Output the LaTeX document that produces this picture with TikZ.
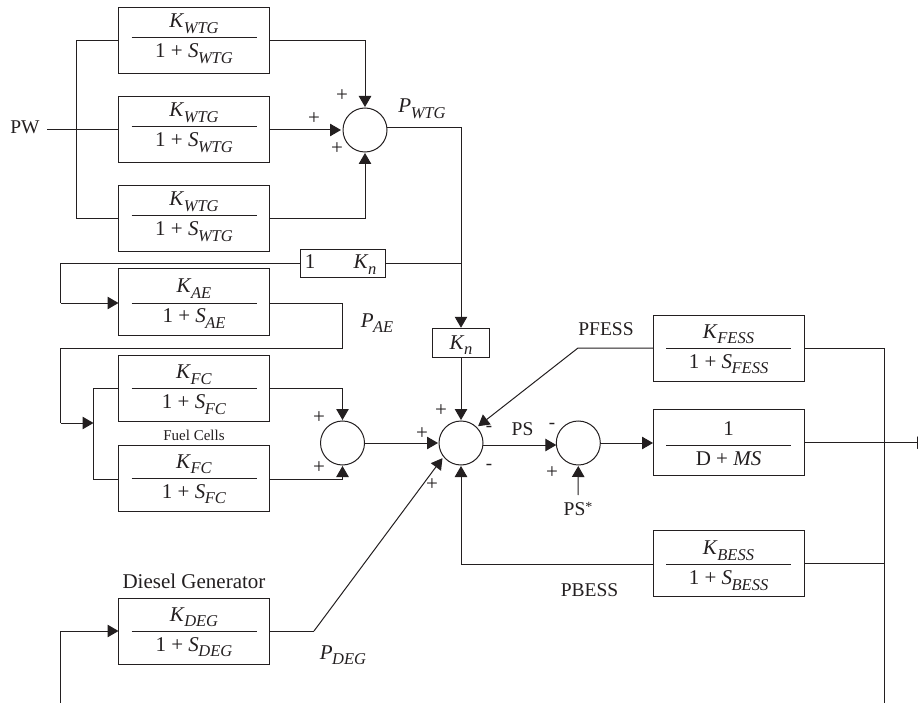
\documentclass[tikz,border=0pt]{standalone}
\usepackage{fontspec}
\setmainfont{Liberation Serif}
\usetikzlibrary{arrows.meta}
\definecolor{ink}{HTML}{231F20}
\newcommand{\Sb}[2]{\textit{#1}\kern-0.5pt\raisebox{-0.27em}{\fontsize{16.5}{16.5}\selectfont\textit{#2}}}
\tikzset{
  every node/.style={text=ink,font=\fontsize{21}{23}\selectfont,inner sep=0pt,outer sep=0pt},
  line/.style={draw=ink,line width=1pt},
  arrowline/.style={line,-{Triangle[length=11pt,width=12.5pt]},shorten >=1pt},
  blockbox/.style={line,minimum width=151pt,minimum height=66pt},
  smallbox/.style={line,minimum height=28.5pt},
  sumcircle/.style={line,circle,minimum size=44pt},
  sign/.style={font=\fontsize{21}{21}\selectfont},
  minus/.style={font=\fontsize{19}{19}\selectfont},
  plainlabel/.style={anchor=base,font=\fontsize{19.5}{21}\selectfont},
}
% name, x, box centre y, fraction bar y, numerator, denominator
\newcommand{\block}[6]{%
  \node[blockbox] (#1) at (#2,#3) {};
  \draw[line] (#2-62.5,#4) -- (#2+62.5,#4);
  \node[anchor=base] at (#2,#4-10) {#5};
  \node[anchor=base] at (#2,#4+20) {#6};
}
\begin{document}
\begin{tikzpicture}[x=1pt,y=-1pt]
\useasboundingbox (0,0) rectangle (918,703);
% blocks
\block{wa}{194}{41}{38}{\Sb{K}{WTG}}{1 + \Sb{S}{WTG}}
\block{wb}{194}{130}{127}{\Sb{K}{WTG}}{1 + \Sb{S}{WTG}}
\block{wc}{194}{219}{216}{\Sb{K}{WTG}}{1 + \Sb{S}{WTG}}
\block{ae}{194}{302}{303}{\Sb{K}{AE}}{1 + \Sb{S}{AE}}
\block{fa}{194}{388.5}{388.5}{\Sb{K}{FC}}{1 + \Sb{S}{FC}}
\block{fb}{194}{478}{478}{\Sb{K}{FC}}{1 + \Sb{S}{FC}}
\block{de}{194}{631}{631}{\Sb{K}{DEG}}{1 + \Sb{S}{DEG}}
\block{fe}{728.5}{348}{348}{\Sb{K}{FESS}}{1 + \Sb{S}{FESS}}
\block{dm}{728.5}{442.7}{445}{1}{D + \textit{MS}}
\block{be}{728.5}{563}{564.5}{\Sb{K}{BESS}}{1 + \Sb{S}{BESS}}
% small boxes
\node[smallbox,minimum width=85pt] (ka) at (342.5,263.5) {};
\node[anchor=base] at (310,269) {1};
\node[anchor=base] at (365,269) {\Sb{K}{n}};
\node[smallbox,minimum width=57pt] (kb) at (461,343) {};
\node[anchor=base] at (461,349) {\Sb{K}{n}};
% summing junctions
\node[sumcircle] (s1) at (365,130) {};
\node[sumcircle] (s2) at (342.5,443) {};
\node[sumcircle] (s3) at (461,443) {};
\node[sumcircle] (s4) at (578.3,443) {};
% text labels
\node[plainlabel] (pw) at (25,134) {PW};
\node[anchor=base] (pwtg) at (422,113) {\Sb{P}{WTG}};
\node[anchor=base] (pae) at (377,327) {\Sb{P}{AE}};
\node[anchor=base] (pdeg) at (343,659) {\Sb{P}{DEG}};
\node[anchor=base,font=\fontsize{15}{15}\selectfont] at (194,440) {Fuel Cells};
\node[anchor=base] at (194,588) {Diesel Generator};
\node[plainlabel] at (606,335) {PFESS};
\node[plainlabel] at (589.5,596) {PBESS};
\node[plainlabel] at (522.5,435) {PS};
\node[plainlabel] (pss) at (578,515) {PS\raisebox{4pt}{\fontsize{14}{14}\selectfont *}};
% signs
\node[sign] at (342,96) {+};
\node[sign] at (314,119) {+};
\node[sign] at (337,149) {+};
\node[sign] at (319,418) {+};
\node[sign] at (319,468) {+};
\node[sign] at (441,410.5) {+};
\node[sign] at (422,434) {+};
\node[sign] at (432,485) {+};
\node[sign] at (552,473) {+};
\node[minus] at (489,429) {-};
\node[minus] at (489,467) {-};
\node[minus] at (552,426) {-};
% free coordinates
\coordinate (trunkT) at (76.5,41);
\coordinate (trunkB) at (76.5,219);
\coordinate (pwStart) at (47,130);
\coordinate (out1) at (461,127.5);
\coordinate (tap) at (461,263.5);
\coordinate (loopA) at (60.5,263.5);
\coordinate (loopB) at (60.5,303);
\coordinate (aeA) at (342.5,303);
\coordinate (aeB) at (342.5,348);
\coordinate (aeC) at (60.5,348);
\coordinate (aeD) at (60.5,423);
\coordinate (fcIn) at (93.5,423);
\coordinate (fcT) at (93.5,388.5);
\coordinate (fcB) at (93.5,479);
\coordinate (deA) at (60.5,703);
\coordinate (deB) at (60.5,631);
\coordinate (deBend) at (314,631);
\coordinate (feBend) at (578,348);
\coordinate (busT) at (884,348);
\coordinate (busB) at (884,703);
\coordinate (busM) at (884,563);
\coordinate (beBend) at (461,564.5);
\coordinate (endR) at (928,442.7);
\coordinate (pssTop) at (578,495);
% wind
\draw[line] (pwStart) -- (wb.west);
\draw[line] (wa.west) -- (trunkT) -- (trunkB) -- (wc.west);
\draw[arrowline] (wa.east) -| (s1.north);
\draw[arrowline,shorten >=2pt] (wb.east) -- (s1.west);
\draw[arrowline] (wc.east) -| (s1.south);
\draw[line] (s1.east |- out1) -- (out1) -- (tap);
\draw[arrowline] (tap) -- (kb.north);
\draw[line] (tap) -- (ka.east);
\draw[line] (ka.west) -- (loopA) -- (loopB);
\draw[arrowline,shorten >=0pt] (loopB) -- (loopB -| ae.west);
% AE to fuel cells
\draw[line] (aeA -| ae.east) -- (aeA) -- (aeB) -- (aeC) -- (aeD);
\draw[arrowline,shorten >=0pt] (aeD) -- (fcIn);
\draw[line] (fa.west) -- (fcT) -- (fcB) -- (fcB -| fb.west);
\draw[arrowline] (fa.east) -| (s2.north);
\draw[arrowline] (fcB -| fb.east) -| (s2.south);
\draw[arrowline] (s2.east) -- (s3.west);
% diesel
\draw[line] (deA) -- (deB);
\draw[arrowline,shorten >=0pt] (deB) -- (de.west);
\draw[line] (de.east) -- (deBend);
\draw[arrowline,shorten >=2pt] (deBend) -- (s3.218);
% centre
\draw[arrowline] (kb.south) -- (s3.north);
\draw[arrowline,shorten >=2pt] (fe.west) -- (feBend) -- (s3.45);
\draw[arrowline,shorten >=0pt] ([yshift=-2pt]s3.east) -- ([yshift=-2pt]s4.west);
\draw[arrowline,shorten >=0pt] (s4.east) -- (s4.east -| dm.west);
\draw[arrowline] (pssTop) -- (s4.south);
\draw[arrowline] (beBend -| be.west) -- (beBend) -- (s3.south);
% right bus
\draw[line] (fe.east) -- (busT) -- (busB);
\draw[line] (be.east) -- (busM);
\draw[line,-{Triangle[length=11pt,width=12.5pt]}] (dm.east |- endR) -- (endR);
\end{tikzpicture}
\end{document}
